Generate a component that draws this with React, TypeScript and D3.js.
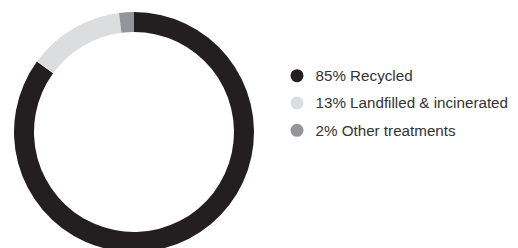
import React from 'react';
import * as d3 from 'd3';

const labels = ['85% Recycled', '13% Landfilled & incinerated', '2% Other treatments'];
const values = [85, 13, 2];
const colors = ['#231f20', '#dcdddf', '#939598'];

const W = 518;
const H = 248;

export default function App() {
  const pie = d3.pie<number>().sort(null)(values);
  const arc = d3.arc<d3.PieArcDatum<number>>().innerRadius(100).outerRadius(120);
  const legendY = d3.scaleBand<number>().domain(d3.range(labels.length)).range([62, 144]);

  return (
    <svg
      width={W}
      height={H}
      style={{ position: 'absolute', left: 0, top: 0, background: '#fff' }}
    >
      <g transform="translate(134,132)">
        {pie.map((d, i) => (
          <path key={i} d={arc(d) || ''} fill={colors[i]} />
        ))}
      </g>
      <g fontFamily="Liberation Sans, Arial, sans-serif" fontSize={15.2} fill="#333">
        {labels.map((l, i) => {
          const y = (legendY(i) as number) + legendY.bandwidth() / 2;
          return (
            <g key={i}>
              <circle cx={297} cy={y} r={6.5} fill={colors[i]} />
              <text x={315.5} y={y} dy="0.36em">
                {l}
              </text>
            </g>
          );
        })}
      </g>
    </svg>
  );
}
